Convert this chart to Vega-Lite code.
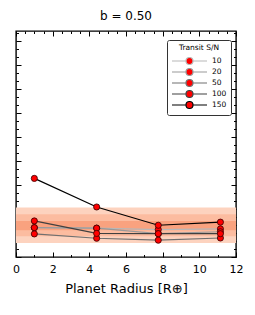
{
  "$schema": "https://vega.github.io/schema/vega-lite/v6.json",
  "autosize": "none",
  "width": 220,
  "height": 226,
  "padding": {"left": 16, "top": 31, "right": 19, "bottom": 58},
  "background": "white",
  "config": {
    "font": "DejaVu Sans",
    "view": {"stroke": "black", "strokeWidth": 1.4}
  },
  "title": {"text": "b = 0.50", "fontSize": 12, "fontWeight": "normal", "font": "DejaVu Sans", "offset": 8, "anchor": "middle"},
  "datasets": {
    "bands": [
      {"band": "outer", "lo": 0.58, "hi": 2.06},
      {"band": "middle", "lo": 0.86, "hi": 1.78},
      {"band": "inner", "lo": 1.11, "hi": 1.5}
    ],
    "series": [
      {"snr": "10", "r": 1.0, "d": 1.22}, {"snr": "10", "r": 4.4, "d": 1.2}, {"snr": "10", "r": 7.76, "d": 1.14}, {"snr": "10", "r": 11.15, "d": 1.17},
      {"snr": "20", "r": 1.0, "d": 1.22}, {"snr": "20", "r": 4.4, "d": 1.2}, {"snr": "20", "r": 7.76, "d": 0.97}, {"snr": "20", "r": 11.15, "d": 1.05},
      {"snr": "50", "r": 1.0, "d": 0.96}, {"snr": "50", "r": 4.4, "d": 0.78}, {"snr": "50", "r": 7.76, "d": 0.7}, {"snr": "50", "r": 11.15, "d": 0.79},
      {"snr": "100", "r": 1.0, "d": 1.5}, {"snr": "100", "r": 4.4, "d": 0.98}, {"snr": "100", "r": 7.76, "d": 0.97}, {"snr": "100", "r": 11.15, "d": 0.97},
      {"snr": "150", "r": 1.0, "d": 3.27}, {"snr": "150", "r": 4.4, "d": 2.08}, {"snr": "150", "r": 7.76, "d": 1.32}, {"snr": "150", "r": 11.15, "d": 1.45}
    ]
  },
  "layer": [
    {
      "data": {"name": "bands"},
      "mark": {"type": "rect"},
      "encoding": {
        "y": {"field": "lo", "type": "quantitative", "scale": {"domain": [0, 9.4], "nice": false, "zero": false},
          "axis": {"orient": "left", "title": null, "labels": false, "domain": false, "grid": false,
            "values": [0,0.3333,0.6667,1,1.3333,1.6667,2,2.3333,2.6667,3,3.3333,3.6667,4,4.3333,4.6667,5,5.3333,5.6667,6,6.3333,6.6667,7,7.3333,7.6667,8,8.3333,8.6667,9,9.3333],
            "tickColor": "black", "tickWidth": 1,
            "tickSize": {"condition": {"test": "abs(datum.value - round(datum.value)) < 0.01", "value": -5}, "value": -2.5}}},
        "y2": {"field": "hi"},
        "color": {"field": "band", "type": "nominal", "legend": null,
          "scale": {"domain": ["outer", "middle", "inner"], "range": ["#FDD3BF", "#FCBCA0", "#F9A27F"]}}
      }
    },
    {
      "data": {"name": "series"},
      "mark": {"type": "line", "strokeWidth": 1.2},
      "encoding": {
        "x": {"field": "r", "type": "quantitative", "scale": {"domain": [0, 12], "nice": false, "zero": false},
          "axis": {"orient": "bottom", "title": "Planet Radius [R⊕]", "titleFontSize": 13, "titleFontWeight": "normal", "titleColor": "black", "titlePadding": 8,
            "domain": false, "grid": false, "format": "d",
            "values": [0,0.5,1,1.5,2,2.5,3,3.5,4,4.5,5,5.5,6,6.5,7,7.5,8,8.5,9,9.5,10,10.5,11,11.5,12],
            "labelExpr": "datum.value % 2 === 0 ? format(datum.value, 'd') : ''",
            "labelFontSize": 11, "labelColor": "black", "labelPadding": 11, "labelFlush": false,
            "tickColor": "black", "tickWidth": 1,
            "tickSize": {"condition": {"test": "datum.value % 2 === 0", "value": -5}, "value": -2.5}}},
        "y": {"field": "d", "type": "quantitative", "scale": {"domain": [0, 9.4], "nice": false, "zero": false},
          "axis": {"orient": "right", "title": null, "labels": false, "domain": false, "grid": false,
            "values": [0,0.3333,0.6667,1,1.3333,1.6667,2,2.3333,2.6667,3,3.3333,3.6667,4,4.3333,4.6667,5,5.3333,5.6667,6,6.3333,6.6667,7,7.3333,7.6667,8,8.3333,8.6667,9,9.3333],
            "tickColor": "black", "tickWidth": 1,
            "tickSize": {"condition": {"test": "abs(datum.value - round(datum.value)) < 0.01", "value": -5}, "value": -2.5}}},
        "stroke": {"field": "snr", "type": "nominal", "sort": ["10", "20", "50", "100", "150"],
          "scale": {"domain": ["10", "20", "50", "100", "150"], "range": ["#b8b8b8", "#999999", "#707070", "#404040", "#000000"]},
          "legend": {
            "title": "Transit S/N", "orient": "none", "legendX": 151, "legendY": 9,
            "titleFontSize": 7.5, "titleFontWeight": "normal", "titleColor": "black", "titleAnchor": "middle", "titlePadding": 4,
            "labelFontSize": 7.5, "labelColor": "black", "labelOffset": 4,
            "symbolType": "M-1,0H-0.2M0.2,0H1M0.2,0A0.2,0.2 0 1,1 -0.2,0A0.2,0.2 0 1,1 0.2,0Z",
            "symbolSize": 1225, "symbolFillColor": "#ff0000", "symbolStrokeWidth": 1.2, "symbolOpacity": 1,
            "clipHeight": 11, "rowPadding": 0,
            "strokeColor": "#333333", "fillColor": "white", "cornerRadius": 2, "padding": 4
          }},
        "order": {"field": "r", "type": "quantitative"}
      }
    },
    {
      "data": {"name": "series"},
      "mark": {"type": "point", "filled": true, "fill": "#ff0000", "stroke": "#330000", "strokeWidth": 0.8, "size": 38, "opacity": 1},
      "encoding": {
        "x": {"field": "r", "type": "quantitative", "scale": {"domain": [0, 12], "nice": false, "zero": false},
          "axis": {"orient": "top", "title": null, "labels": false, "domain": false, "grid": false,
            "values": [0,0.5,1,1.5,2,2.5,3,3.5,4,4.5,5,5.5,6,6.5,7,7.5,8,8.5,9,9.5,10,10.5,11,11.5,12],
            "tickColor": "black", "tickWidth": 1,
            "tickSize": {"condition": {"test": "datum.value % 2 === 0", "value": -5}, "value": -2.5}}},
        "y": {"field": "d", "type": "quantitative", "axis": null}
      }
    }
  ],
  "resolve": {"axis": {"x": "independent", "y": "independent"}}
}
